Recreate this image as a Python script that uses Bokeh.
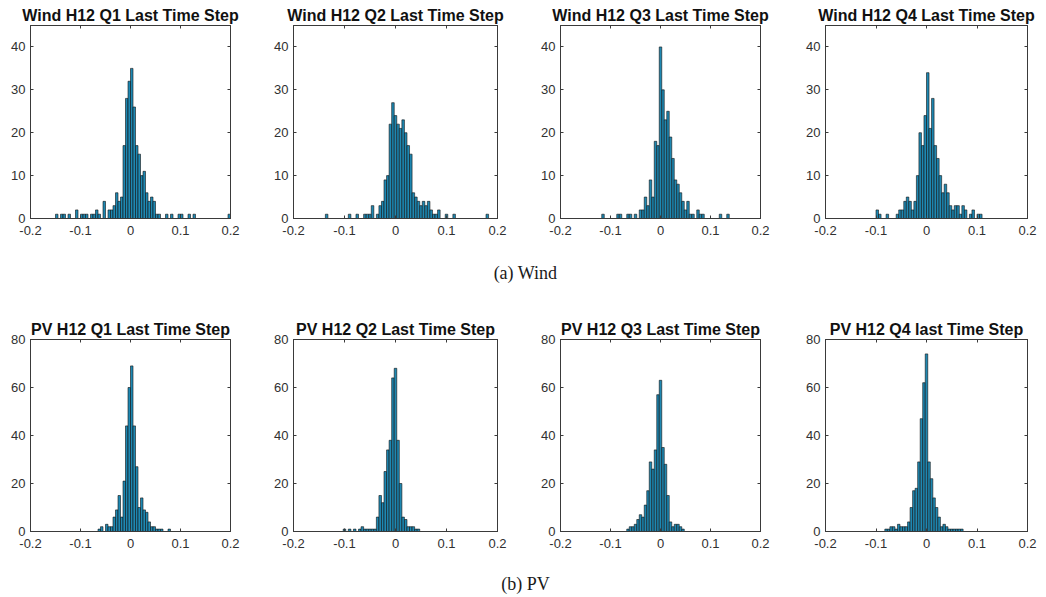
from bokeh.plotting import figure
from bokeh.layouts import column, row
from bokeh.models import LinearAxis, Range1d, FixedTicker, NumeralTickFormatter, Label
from bokeh.embed import file_html
from bokeh.resources import INLINE

# ---------------- data ----------------
BIN_WIDTH = 0.005
x_ticks = [-0.2, -0.1, 0, 0.1, 0.2]
wind_y_ticks = [0, 10, 20, 30, 40]
pv_y_ticks = [0, 20, 40, 60, 80]

wind_titles = ["Wind H12 Q1 Last Time Step", "Wind H12 Q2 Last Time Step",
               "Wind H12 Q3 Last Time Step", "Wind H12 Q4 Last Time Step"]
pv_titles = ["PV H12 Q1 Last Time Step", "PV H12 Q2 Last Time Step",
             "PV H12 Q3 Last Time Step", "PV H12 Q4 last Time Step"]

wind_q1_x = [-0.1475, -0.1375, -0.1325, -0.1225, -0.1075, -0.0975, -0.0925, -0.0875, -0.0775, -0.0725,
             -0.0675, -0.0625, -0.0525, -0.0425, -0.0375, -0.0325, -0.0275, -0.0225, -0.0175, -0.0125,
             -0.0075, -0.0025, 0.0025, 0.0075, 0.0125, 0.0175, 0.0225, 0.0275, 0.0325, 0.0375,
             0.0425, 0.0475, 0.0525, 0.0575, 0.0725, 0.0825, 0.0975, 0.1025, 0.1175, 0.1275, 0.1975]
wind_q1_n = [1, 1, 1, 1, 2, 1, 1, 1, 1, 1,
             2, 1, 4, 2, 2, 3, 6, 4, 5, 17,
             28, 32, 35, 26, 17, 15, 10, 11, 6, 4,
             5, 4, 1, 1, 1, 1, 1, 1, 1, 1, 1]

wind_q2_x = [-0.135, -0.09, -0.075, -0.06, -0.055, -0.05, -0.045, -0.035, -0.03, -0.025,
             -0.02, -0.015, -0.01, -0.005, 0.0, 0.005, 0.01, 0.015, 0.02, 0.025,
             0.03, 0.035, 0.04, 0.045, 0.05, 0.055, 0.06, 0.065, 0.07, 0.075,
             0.08, 0.085, 0.1, 0.115, 0.18]
wind_q2_n = [1, 1, 1, 1, 1, 1, 3, 1, 3, 4,
             9, 10, 22, 27, 24, 22, 21, 23, 20, 17,
             15, 6, 5, 4, 3, 4, 3, 4, 2, 1,
             1, 2, 1, 1, 1]

wind_q3_x = [-0.115, -0.085, -0.08, -0.065, -0.06, -0.05, -0.04, -0.035, -0.03, -0.025,
             -0.02, -0.015, -0.01, -0.005, 0.0, 0.005, 0.01, 0.015, 0.02, 0.025,
             0.03, 0.035, 0.04, 0.045, 0.05, 0.055, 0.06, 0.065, 0.075, 0.08,
             0.085, 0.12, 0.135]
wind_q3_n = [1, 1, 1, 1, 1, 1, 2, 2, 5, 3,
             9, 5, 18, 17, 40, 30, 23, 25, 19, 14,
             9, 8, 6, 4, 2, 4, 1, 1, 2, 1,
             1, 1, 1]

wind_q4_x = [-0.0975, -0.0925, -0.0775, -0.0575, -0.0525, -0.0475, -0.0425, -0.0375, -0.0325, -0.0275,
             -0.0225, -0.0175, -0.0125, -0.0075, -0.0025, 0.0025, 0.0075, 0.0125, 0.0175, 0.0225,
             0.0275, 0.0325, 0.0375, 0.0425, 0.0475, 0.0525, 0.0575, 0.0625, 0.0675, 0.0725,
             0.0775, 0.0875, 0.0925, 0.1025, 0.1075]
wind_q4_n = [2, 1, 1, 1, 2, 2, 4, 5, 4, 2,
             4, 10, 20, 17, 24, 34, 21, 28, 17, 14,
             10, 6, 8, 6, 3, 2, 3, 3, 1, 3,
             2, 1, 2, 1, 1]

pv_q1_x = [-0.0625, -0.0575, -0.0475, -0.0425, -0.0375, -0.0325, -0.0275, -0.0225, -0.0175, -0.0125,
           -0.0075, -0.0025, 0.0025, 0.0075, 0.0125, 0.0175, 0.0225, 0.0275, 0.0325, 0.0375,
           0.0425, 0.0475, 0.0525, 0.0575, 0.0625, 0.0775]
pv_q1_n = [1, 2, 3, 2, 2, 6, 9, 15, 6, 21,
           44, 60, 69, 44, 27, 10, 14, 9, 8, 4,
           2, 2, 1, 1, 1, 1]

pv_q2_x = [-0.1, -0.09, -0.08, -0.07, -0.065, -0.06, -0.055, -0.05, -0.045, -0.04,
           -0.035, -0.03, -0.025, -0.02, -0.015, -0.01, -0.005, 0.0, 0.005, 0.01,
           0.015, 0.02, 0.025, 0.03, 0.035, 0.04, 0.045]
pv_q2_n = [1, 1, 1, 1, 2, 1, 1, 1, 1, 1,
           6, 15, 12, 25, 34, 38, 64, 68, 38, 20,
           6, 5, 2, 2, 2, 1, 1]

pv_q3_x = [-0.065, -0.06, -0.055, -0.05, -0.045, -0.04, -0.035, -0.03, -0.025, -0.02,
           -0.015, -0.01, -0.005, 0.0, 0.005, 0.01, 0.015, 0.02, 0.025, 0.03,
           0.035, 0.04, 0.045]
pv_q3_n = [1, 2, 2, 3, 5, 7, 6, 11, 17, 29,
           26, 34, 57, 63, 35, 28, 15, 4, 2, 3,
           3, 2, 1]

pv_q4_x = [-0.08, -0.075, -0.07, -0.065, -0.06, -0.055, -0.05, -0.045, -0.04, -0.035,
           -0.03, -0.025, -0.02, -0.015, -0.01, -0.005, 0.0, 0.005, 0.01, 0.015,
           0.02, 0.025, 0.03, 0.035, 0.04, 0.045, 0.05, 0.055, 0.06, 0.065, 0.07]
pv_q4_n = [1, 1, 2, 2, 1, 3, 2, 2, 2, 4,
           10, 17, 18, 29, 47, 62, 74, 29, 22, 14,
           10, 6, 2, 3, 2, 1, 1, 1, 1, 1, 1]

wind_data = [(wind_q1_x, wind_q1_n), (wind_q2_x, wind_q2_n), (wind_q3_x, wind_q3_n), (wind_q4_x, wind_q4_n)]
pv_data = [(pv_q1_x, pv_q1_n), (pv_q2_x, pv_q2_n), (pv_q3_x, pv_q3_n), (pv_q4_x, pv_q4_n)]

# ---------------- styling ----------------
BAR_FILL = "#1e88b2"
BAR_EDGE = "#101010"
AX_COLOR = "#3a3a3a"
LABEL_COLOR = "#303030"
FONT = "Liberation Sans"

col_widths = [263, 267, 265, 251]
col_right = [33, 33, 35, 19]


def style_axis(ax, ticks, show_labels=True):
    ax.axis_line_color = AX_COLOR
    ax.major_tick_line_color = AX_COLOR
    ax.major_tick_in = 3
    ax.major_tick_out = 0
    ax.minor_tick_line_color = None
    ax.major_label_text_font = FONT
    ax.major_label_text_font_size = "13px"
    if show_labels:
        ax.major_label_text_color = LABEL_COLOR
    else:
        ax.major_label_overrides = {t: "" for t in ticks}
        ax.major_label_text_color = None
        ax.major_label_standoff = 0


def make_panel(title, xs, ns, ymax, yticks, col, height, top, bottom):
    p = figure(width=col_widths[col], height=height,
               x_range=Range1d(-0.2, 0.2), y_range=Range1d(0, ymax),
               output_backend="svg", toolbar_location=None,
               min_border_left=30, min_border_right=col_right[col],
               min_border_top=top, min_border_bottom=bottom)
    p.vbar(x=xs, top=ns, width=BIN_WIDTH, bottom=0,
           fill_color=BAR_FILL, line_color=BAR_EDGE, line_width=0.6)
    p.xgrid.visible = False
    p.ygrid.visible = False
    p.outline_line_color = AX_COLOR
    p.background_fill_color = "white"
    p.border_fill_color = "white"

    p.xaxis.ticker = FixedTicker(ticks=x_ticks)
    p.yaxis.ticker = FixedTicker(ticks=yticks)
    p.xaxis.formatter = NumeralTickFormatter(format="0.[0]")
    p.yaxis.formatter = NumeralTickFormatter(format="0")
    style_axis(p.xaxis[0], x_ticks)
    style_axis(p.yaxis[0], yticks)
    p.xaxis.major_label_standoff = 7
    p.yaxis.major_label_standoff = 5

    top_ax = LinearAxis(ticker=FixedTicker(ticks=x_ticks))
    style_axis(top_ax, x_ticks, show_labels=False)
    p.add_layout(top_ax, "above")
    right_ax = LinearAxis(ticker=FixedTicker(ticks=yticks))
    style_axis(right_ax, yticks, show_labels=False)
    p.add_layout(right_ax, "right")

    p.title.text = title
    p.title.align = "center"
    p.title.text_font = FONT
    p.title.text_font_style = "bold"
    p.title.text_font_size = "16px"
    p.title.text_color = "#111111"
    p.title.standoff = 3
    return p


def caption(text, height, y_from_top):
    c = figure(width=1046, height=height, x_range=Range1d(0, 1), y_range=Range1d(0, 1),
               output_backend="svg", toolbar_location=None, min_border=0,
               x_axis_location=None, y_axis_location=None)
    c.xgrid.visible = False
    c.ygrid.visible = False
    c.outline_line_color = None
    c.add_layout(Label(x=525, y=height - y_from_top, x_units="screen", y_units="screen",
                       text=text, text_align="center", text_baseline="middle",
                       text_font="Liberation Serif", text_font_size="18px",
                       text_color="#1a1a1a"))
    return c


wind_row = row([make_panel(wind_titles[i], wind_data[i][0], wind_data[i][1], 45, wind_y_ticks, i, 250, 25, 32)
                for i in range(4)])
pv_row = row([make_panel(pv_titles[i], pv_data[i][0], pv_data[i][1], 80, pv_y_ticks, i, 250, 27, 31)
              for i in range(4)])

layout = column(wind_row, caption("(a) Wind", 62, 22), pv_row, caption("(b) PV", 35, 21))

open("out.html", "w").write(file_html(layout, INLINE))
